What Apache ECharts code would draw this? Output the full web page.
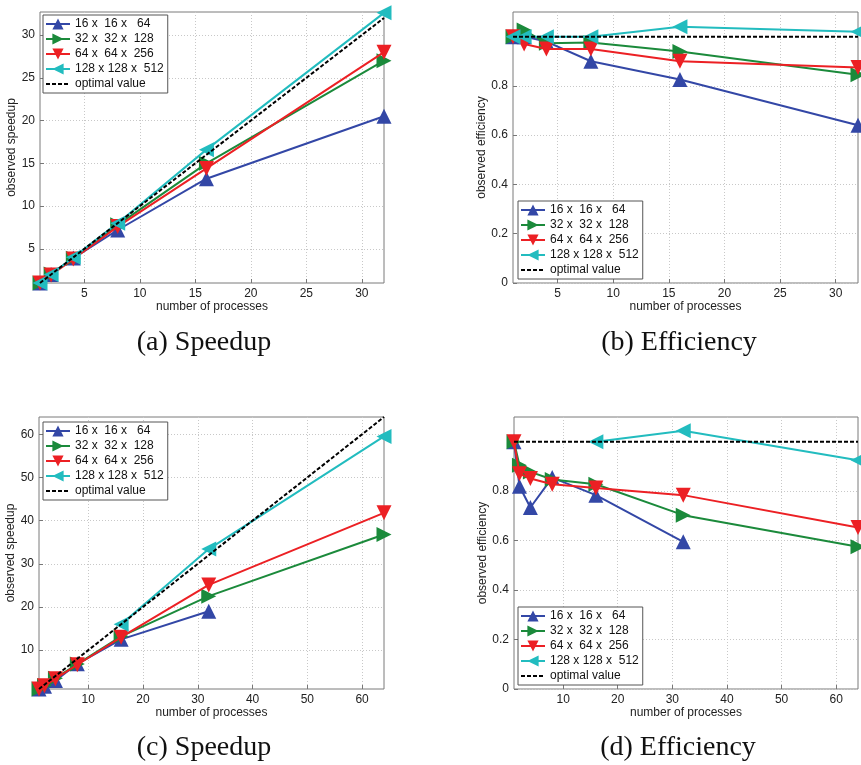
<!DOCTYPE html>
<html><head><meta charset="utf-8">
<script src="https://cdn.jsdelivr.net/npm/echarts@6/dist/echarts.min.js"></script>
<style>html,body{margin:0;padding:0;background:#fff}#c{width:861px;height:765px}</style>
</head><body><div id="c"></div>
<script>
// ---- names ----
const seriesNames = ['16 x  16 x   64', '32 x  32 x  128', '64 x  64 x  256', '128 x 128 x  512', 'optimal value'];
const captions = ['(a) Speedup', '(b) Efficiency', '(c) Speedup', '(d) Efficiency'];

// ---- x values (number of processes) ----
const procsTop = [1, 2, 4, 8, 16, 32];
const procsBottom = [1, 2, 4, 8, 16, 32, 64];

// ---- (a) speedup, up to 32 processes ----
const speedA16 = [1.0, 2.0, 3.92, 7.2, 13.2, 20.5];
const speedA32 = [1.0, 2.05, 3.89, 7.8, 15.0, 27.0];
const speedA64 = [1.0, 1.94, 3.8, 7.6, 14.4, 28.0];
const speedA128 = [1.0, 2.0, 4.0, 8.0, 16.6, 32.6];
const optimalSpeedA = [1, 2, 4, 8, 16, 32];

// ---- (b) efficiency, up to 32 processes ----
const effB16 = [1.0, 1.0, 0.98, 0.90, 0.826, 0.64];
const effB32 = [1.0, 1.027, 0.973, 0.976, 0.94, 0.845];
const effB64 = [1.0, 0.97, 0.95, 0.95, 0.90, 0.875];
const effB128 = [1.0, 1.0, 1.0, 1.0, 1.04, 1.02];
const optimalEffB = [1, 1, 1, 1, 1, 1];

// ---- (c) speedup, up to 64 processes ----
const speedC16 = [1.0, 1.64, 2.94, 6.84, 12.5, 19.0, null];
const speedC32 = [1.0, 1.81, 3.51, 6.78, 13.2, 22.5, 36.8];
const speedC64 = [1.0, 1.74, 3.4, 6.62, 13.0, 25.1, 41.8];
const speedC128 = [null, null, null, null, 16.0, 33.4, 59.5];
const optimalSpeedC = [1, 2, 4, 8, 16, 32, 64];

// ---- (d) efficiency, up to 64 processes ----
const effD16 = [1.0, 0.82, 0.734, 0.855, 0.784, 0.595, null];
const effD32 = [1.0, 0.905, 0.878, 0.847, 0.828, 0.703, 0.575];
const effD64 = [1.0, 0.871, 0.851, 0.828, 0.813, 0.784, 0.653];
const effD128 = [null, null, null, null, 1.0, 1.044, 0.925];
const optimalEffD = [1, 1, 1, 1, 1, 1, 1];

// ---- tick labels ----
const xTicksTop = [5, 10, 15, 20, 25, 30];
const xTicksBottom = [10, 20, 30, 40, 50, 60];
const yTicksSpeedA = [5, 10, 15, 20, 25, 30];
const yTicksSpeedC = [10, 20, 30, 40, 50, 60];
const yTicksEff = [0, 0.2, 0.4, 0.6, 0.8];

// ---- styles ----
const colors = ['#3347a6', '#1b8a3b', '#ec2024', '#22bcbf', '#000000'];
const symbols = [
  'path://M5,0L10,10L0,10Z',   // up
  'path://M0,0L10,5L0,10Z',    // right
  'path://M0,0L10,0L5,10Z',    // down
  'path://M10,0L0,5L10,10Z'    // left
];
const FONT = '"Liberation Sans", Arial, Helvetica, sans-serif';

const panels = [
  { grid: {left: 40, top: 12, width: 344, height: 271}, x: procsTop, xMin: 1, xMax: 32, xTicks: xTicksTop,
    yMin: 1, yMax: 32.7, yTicks: yTicksSpeedA, yName: 'observed speedup', yGap: 15,
    data: [speedA16, speedA32, speedA64, speedA128, optimalSpeedA],
    legend: {left: 43, top: 15}, caption: {x: 204, y: 343} },
  { grid: {left: 513, top: 12, width: 345, height: 271}, x: procsTop, xMin: 1, xMax: 32, xTicks: xTicksTop,
    yMin: 0, yMax: 1.1, yTicks: yTicksEff, yName: 'observed efficiency', yGap: 18,
    data: [effB16, effB32, effB64, effB128, optimalEffB],
    legend: {left: 518, top: 201}, caption: {x: 679, y: 343} },
  { grid: {left: 39, top: 417, width: 345, height: 272}, x: procsBottom, xMin: 1, xMax: 64, xTicks: xTicksBottom,
    yMin: 1, yMax: 64, yTicks: yTicksSpeedC, yName: 'observed speedup', yGap: 14,
    data: [speedC16, speedC32, speedC64, speedC128, optimalSpeedC],
    legend: {left: 43, top: 422}, caption: {x: 204, y: 748} },
  { grid: {left: 514, top: 417, width: 344, height: 272}, x: procsBottom, xMin: 1, xMax: 64, xTicks: xTicksBottom,
    yMin: 0, yMax: 1.1, yTicks: yTicksEff, yName: 'observed efficiency', yGap: 19,
    data: [effD16, effD32, effD64, effD128, optimalEffD],
    legend: {left: 518, top: 607}, caption: {x: 678, y: 748} }
];

const legendData = seriesNames.map((n, i) => i === 4 ? {name: n, itemStyle: {opacity: 0}} : {name: n});

const grids = [], xAxes = [], yAxes = [], series = [], legends = [], graphics = [];
panels.forEach((p, gi) => {
  grids.push(Object.assign({show: true, borderColor: '#7a7a7a', borderWidth: 1, backgroundColor: '#fff'}, p.grid));
  xAxes.push({
    type: 'value', gridIndex: gi, min: p.xMin, max: p.xMax,
    name: 'number of processes', nameLocation: 'middle', nameGap: 16,
    nameTextStyle: {fontFamily: FONT, fontSize: 12, color: '#222'},
    axisLine: {show: false},
    axisTick: {show: true, inside: true, length: 4, customValues: p.xTicks, lineStyle: {color: '#777'}},
    axisLabel: {customValues: p.xTicks, fontFamily: FONT, fontSize: 12, color: '#222', margin: 5},
    splitLine: {show: true, lineStyle: {color: '#c8c8c8', type: [1, 2], width: 1}}
  });
  yAxes.push({
    type: 'value', gridIndex: gi, min: p.yMin, max: p.yMax,
    name: p.yName, nameLocation: 'middle', nameGap: p.yGap,
    nameTextStyle: {fontFamily: FONT, fontSize: 12, color: '#222'},
    axisLine: {show: false},
    axisTick: {show: true, inside: true, length: 4, customValues: p.yTicks, lineStyle: {color: '#777'}},
    axisLabel: {customValues: p.yTicks, fontFamily: FONT, fontSize: 12, color: '#222', margin: 5},
    splitLine: {show: true, lineStyle: {color: '#c8c8c8', type: [1, 2], width: 1}}
  });
  p.data.forEach((vals, si) => {
    const pts = [];
    p.x.forEach((xv, i) => { if (vals[i] !== null) pts.push([xv, vals[i]]); });
    const isOpt = si === 4;
    series.push({
      type: 'line', name: seriesNames[si], xAxisIndex: gi, yAxisIndex: gi,
      data: pts, clip: false, animation: false,
      symbol: isOpt ? 'none' : symbols[si], symbolSize: 15, showSymbol: !isOpt,
      itemStyle: {color: colors[si]},
      lineStyle: {color: colors[si], width: 2, type: isOpt ? [4, 2] : 'solid'},
      z: 2 + si
    });
  });
  legends.push({
    left: p.legend.left, top: p.legend.top, orient: 'vertical',
    data: legendData, selectedMode: false,
    itemWidth: 24, itemHeight: 14, itemGap: 3, padding: [3, 4, 3, 2],
    backgroundColor: '#fff', borderColor: '#555', borderWidth: 1, borderRadius: 0,
    textStyle: {fontFamily: FONT, fontSize: 12, color: '#111'}, z: 10
  });
  graphics.push({
    type: 'text', x: p.caption.x, y: p.caption.y,
    style: {text: captions[gi], font: '28px "Liberation Serif", "Times New Roman", serif', fill: '#111', align: 'center', verticalAlign: 'middle'}
  });
});

const chart = echarts.init(document.getElementById('c'), null, {renderer: 'canvas'});
chart.setOption({
  backgroundColor: '#fff', animation: false,
  grid: grids, xAxis: xAxes, yAxis: yAxes, series: series, legend: legends, graphic: graphics
});
</script></body></html>
